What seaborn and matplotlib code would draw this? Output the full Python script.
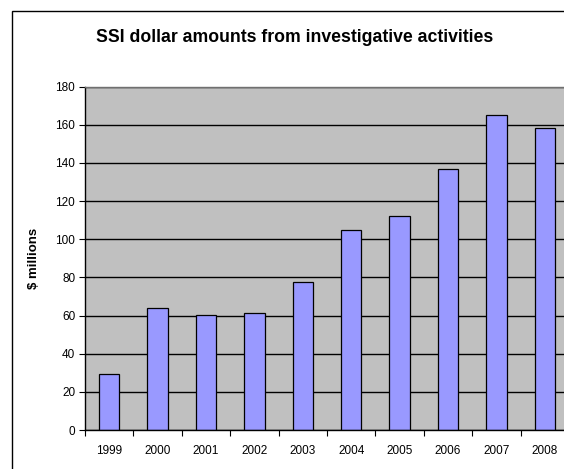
import numpy as np
import pandas as pd
import seaborn as sns
import matplotlib.pyplot as plt
from matplotlib.patches import Rectangle

years = ['1999', '2000', '2001', '2002', '2003', '2004', '2005', '2006', '2007', '2008']
amounts = [29.5, 64, 60.5, 61.5, 77.5, 105, 112, 137, 165, 158]
y_ticks = [0, 20, 40, 60, 80, 100, 120, 140, 160, 180]

df = pd.DataFrame({'year': years, 'amount': amounts})

sns.set_style('white', rc={'text.color': 'black', 'axes.labelcolor': 'black',
                           'xtick.color': 'black', 'ytick.color': 'black'})
plt.rcParams['font.family'] = ['Liberation Sans', 'DejaVu Sans']

fig = plt.figure(figsize=(5.64, 4.69), dpi=100)
ax = fig.add_axes([85 / 564, 1 - 430 / 469, 484 / 564, (430 - 86.5) / 469])
ax.set_facecolor('#C0C0C0')
ax.set_axisbelow(True)

sns.barplot(x='year', y='amount', data=df, color='#9999FF', saturation=1,
            width=0.42, edgecolor='black', linewidth=0.9, ax=ax)

ax.set_ylim(0, 180)
ax.set_yticks(y_ticks)
ax.set_xlim(-0.5, len(years) - 0.5)
ax.yaxis.grid(True, color='black', linewidth=1)
ax.xaxis.grid(False)

ax.set_xticks(np.arange(-0.5, len(years), 1), minor=True)
ax.tick_params(axis='x', which='major', length=0, labelsize=8.5, pad=11, labelcolor='black')
ax.tick_params(axis='x', which='minor', length=4, width=0.8, direction='out', color='black')
ax.tick_params(axis='y', which='major', length=4, width=0.8, direction='out', color='black',
               labelsize=8.5, pad=3, labelcolor='black')
ax.tick_params(left=True)
ax.xaxis.set_tick_params(which='minor', bottom=True)

for side in ['left', 'bottom']:
    ax.spines[side].set_color('black')
    ax.spines[side].set_linewidth(1)
ax.spines['top'].set_color('#707070')
ax.spines['top'].set_linewidth(1)
ax.spines['right'].set_visible(False)

ax.set_xlabel('')
ax.set_ylabel('$ millions', fontsize=9.5, fontweight='bold', labelpad=11, color='black')

fig.text(295 / 564, 1 - 37 / 469, 'SSI dollar amounts from investigative activities',
         ha='center', va='center', fontsize=12.7, fontweight='bold', color='black')

fig.patches.append(Rectangle((11.5 / 564, -0.1), 1.2, 1 - 11 / 469 + 0.1,
                             transform=fig.transFigure, fill=False,
                             edgecolor='black', linewidth=1, zorder=-1))

plt.savefig('out.png', dpi=100)
